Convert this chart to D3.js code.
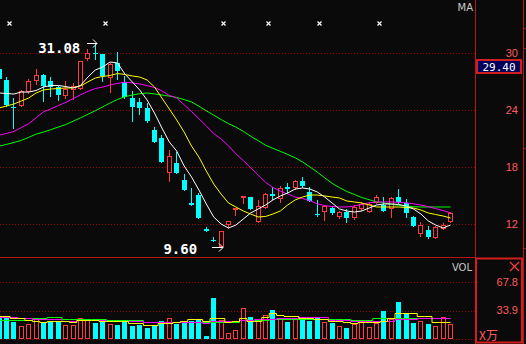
<!DOCTYPE html>
<html>
<head>
<meta charset="utf-8">
<script src="https://cdn.jsdelivr.net/npm/d3@7"></script>
<style>
  html, body { margin: 0; padding: 0; background: #0a0a0a; overflow: hidden; }
  svg { display: block; }
</style>
</head>
<body>
<svg id="chart" width="526" height="344"></svg>
<script>
// daily bars
const open = [28.32,27.16,24.32,24.53,26.00,27.16,27.68,27.05,26.42,25.58,
  26.21,26.32,29.47,30.00,29.89,27.47,28.95,26.95,25.26,24.84,
  24.21,21.89,21.05,17.47,18.42,16.63,14.21,15.05,11.47,10.32,
  9.68,12.00,13.58,14.84,14.84,12.32,13.79,15.16,14.74,15.89,
  15.89,16.53,15.37,13.05,13.37,13.68,12.84,13.26,12.74,13.68,
  13.37,14.32,14.00,13.68,14.84,14.21,12.74,11.05,11.37,10.63,
  11.58,12.32];
const high = [28.53,27.47,25.26,26.11,27.26,28.32,27.79,27.47,26.53,27.05,
  26.84,29.16,30.42,31.08,29.89,28.95,30.11,27.58,26.00,25.26,
  24.74,22.21,21.37,19.79,19.58,17.26,15.79,15.26,11.68,10.63,
  11.26,12.32,13.68,14.95,14.84,14.53,15.26,15.89,16.00,16.32,
  16.63,16.95,15.89,14.53,14.00,13.79,13.37,13.58,14.00,14.32,
  14.21,15.05,14.84,14.84,15.68,14.63,12.84,12.21,11.79,11.79,
  12.11,13.26];
const low = [27.16,24.42,22.11,24.42,25.79,26.74,24.95,25.47,25.05,25.26,
  25.16,26.21,29.26,29.37,27.05,25.89,27.26,25.26,22.84,23.58,
  22.74,20.63,18.53,16.53,17.37,15.58,14.00,12.63,11.26,10.21,
  9.60,11.58,12.95,14.21,13.58,12.21,13.68,14.63,14.32,15.26,
  15.68,15.89,14.42,12.84,12.42,13.05,12.63,12.21,12.53,13.47,
  13.26,14.21,13.37,12.74,14.21,12.74,11.79,10.74,10.53,10.53,
  11.47,12.21];
const close = [27.26,24.53,24.21,26.00,27.05,27.68,26.53,26.42,25.58,26.21,
  26.53,29.16,30.00,29.89,27.58,28.84,28.11,25.37,24.32,24.21,
  22.84,20.63,18.53,19.16,17.37,15.58,14.00,12.63,11.26,10.21,
  11.26,12.32,13.68,14.95,13.58,13.89,15.16,14.95,15.79,15.68,
  16.53,16.00,14.42,12.95,13.89,13.16,13.26,12.63,13.79,14.11,
  14.11,14.84,13.37,14.74,14.32,13.16,11.79,11.89,10.63,11.68,
  11.89,13.16];

// moving averages as drawn
const ma5 = [25.79,25.74,25.68,25.89,25.89,26.05,26.42,26.58,26.58,26.47,
  26.32,26.58,27.47,28.21,28.53,29.05,28.95,27.79,26.95,26.11,
  25.05,23.68,22.11,20.63,19.68,18.11,16.95,15.58,14.11,12.74,
  12.00,11.58,11.89,12.53,13.16,13.58,14.00,14.53,14.95,15.26,
  15.68,15.79,15.68,15.37,14.84,14.21,13.58,13.37,13.26,13.37,
  13.68,14.00,14.11,14.11,14.05,13.89,13.58,13.05,12.32,11.89,
  11.58,11.89];
const ma10 = [24.21,24.42,24.63,24.95,25.26,25.79,26.11,26.21,26.26,26.32,
  26.32,26.53,26.95,27.37,27.53,27.63,27.84,27.74,27.58,27.47,
  27.16,26.42,25.26,24.11,22.95,21.68,20.21,19.05,17.58,16.21,
  15.15,14.21,13.79,13.37,13.05,12.74,12.79,13.05,13.37,14.00,
  14.53,14.84,15.05,15.05,14.95,14.84,14.74,14.42,14.32,14.21,
  14.00,13.79,13.79,13.79,13.79,13.74,13.68,13.47,13.16,13.00,
  12.84,12.63];
const ma20 = [21.35,21.53,21.74,22.15,22.56,23.18,23.81,24.12,24.47,24.79,
  25.19,25.60,25.96,26.26,26.41,26.64,26.80,26.92,26.86,26.74,
  26.57,26.37,26.01,25.54,25.26,24.56,23.83,23.08,22.32,21.51,
  20.95,20.23,19.39,18.68,17.93,17.16,16.39,15.84,15.47,15.16,
  14.84,14.68,14.46,14.12,13.94,13.84,13.79,13.79,13.89,14.07,
  14.23,14.32,14.32,14.32,14.28,14.23,14.13,13.99,13.83,13.62,
  13.41,13.18];
const ma30 = [20.19,20.38,20.58,20.80,21.12,21.46,21.68,21.93,22.21,22.47,
  22.82,23.18,23.55,23.92,24.33,24.74,25.11,25.41,25.57,25.72,
  25.79,25.69,25.58,25.46,25.32,25.09,24.85,24.40,23.92,23.46,
  23.00,22.56,22.21,21.75,21.24,20.78,20.29,19.97,19.65,19.32,
  18.98,18.53,18.01,17.46,16.86,16.28,15.82,15.42,15.11,14.79,
  14.56,14.33,14.20,14.08,13.97,13.87,13.82,13.79,13.79,13.79,
  13.79,13.79];

// volume, x10000
const vol = [25.5,25.5,20.3,15.2,17.9,23.9,19.5,21.2,21.2,16.7,
  16.7,25.1,22.7,19.5,22.7,17.9,16.7,20.0,15.5,16.4,
  13.2,15.5,21.5,25.1,18.3,21.9,21.2,22.7,3.6,49.0,
  22.7,6.8,10.8,37.1,26.3,22.7,28.7,34.7,25.1,20.3,
  23.9,22.7,21.5,25.1,20.3,19.1,15.5,13.2,17.9,21.5,
  14.3,19.1,33.5,23.6,44.2,30.7,19.1,21.5,17.9,15.5,
  26.3,17.9];
const volMa5 = [27.5,27.5,25.1,24.8,22.7,21.5,20.3,21.9,21.9,21.5,
  20.3,23.1,22.7,22.7,21.9,21.9,21.9,21.9,18.8,18.8,
  16.7,16.7,18.8,18.8,20.3,21.9,23.6,23.6,21.5,24.8,
  24.8,20.7,21.9,24.8,21.5,21.5,26.7,30.7,28.7,27.5,
  27.5,25.5,25.5,23.9,23.9,21.5,21.5,20.3,18.8,20.3,
  20.3,20.3,21.5,24.8,30.7,30.7,30.7,27.5,27.5,20.7,
  20.7,20.7];
const volMa10 = [26.7,26.7,26.7,24.8,24.8,23.6,23.6,23.6,23.6,21.5,
  21.5,22.7,22.7,22.7,22.7,21.5,21.5,21.5,21.5,21.5,
  20.3,20.3,20.3,20.3,20.7,20.7,20.7,20.7,19.5,21.9,
  21.9,21.9,21.9,22.7,22.7,23.6,23.6,23.6,25.5,25.5,
  25.5,26.3,26.3,26.3,26.3,22.7,22.7,22.7,21.5,21.5,
  21.5,21.5,21.5,21.5,23.6,23.6,23.6,25.5,25.5,25.5,
  25.5,25.5];
const volMa20 = [22.7,22.7,22.7,22.7,22.7,24.8,24.8,25.9,25.9,23.9,
  23.9,23.9,23.9,23.9,23.9,22.4,22.4,22.4,22.4,22.4,
  20.3,20.3,20.3,20.3,20.3,20.3,20.3,20.3,20.7,20.7,
  20.7,20.7,20.7,22.7,22.7,22.7,22.7,23.9,23.9,23.9,
  23.9,23.9,23.9,23.9,23.9,23.9,23.9,23.9,23.1,23.1,
  23.1,24.8,24.8,24.8,24.8,24.8,24.8,24.8,24.8,24.8,
  24.8,24.8];

const priceTicks = [12, 18, 24, 30];
const volTicks = [33.9, 67.8];
const markerIdx = [1, 14, 30, 36, 43, 51];
const hiIdx = 13, loIdx = 30;
const cursorPrice = "29.40";

const bg = "#0a0a0a",
    gridColor = "#a00000",
    frameColor = "#b41616",
    upColor = "#ff3c3c",
    downColor = "#00ffff",
    labelColor = "#ff5a5a";

const plotRight = 475;

const svg = d3.select("#chart");

svg.append("rect")
    .attr("width", 526).attr("height", 344)
    .attr("fill", bg);

const x = d3.scaleLinear()
    .domain([0, close.length - 1])
    .range([-0.9, 450.5]);

const y = d3.scaleLinear()
    .domain([12, 30])
    .range([224, 53]);

const yv = d3.scaleLinear()
    .domain([0, 67.8])
    .range([339, 282.3]);

const defs = svg.append("defs");
defs.append("clipPath").attr("id", "clipPrice")
  .append("rect").attr("x", 0).attr("y", 0).attr("width", plotRight).attr("height", 257);
defs.append("clipPath").attr("id", "clipVol")
  .append("rect").attr("x", 0).attr("y", 258).attr("width", plotRight).attr("height", 86);

const idx = d3.range(close.length);
function left(i) { return Math.round(x(i) - 2.5); }
function isUp(i) { return close[i] >= open[i]; }

// grid
svg.append("g")
  .selectAll("line")
    .data(priceTicks)
  .enter().append("line")
    .attr("x1", 0).attr("x2", plotRight)
    .attr("y1", function(d) { return Math.round(y(d)) + 0.5; })
    .attr("y2", function(d) { return Math.round(y(d)) + 0.5; })
    .attr("stroke", gridColor)
    .attr("stroke-dasharray", "1,2");

svg.append("g")
  .selectAll("line")
    .data([0].concat(volTicks))
  .enter().append("line")
    .attr("x1", 0).attr("x2", plotRight)
    .attr("y1", function(d) { return Math.round(yv(d)) + 0.5; })
    .attr("y2", function(d) { return Math.round(yv(d)) + 0.5; })
    .attr("stroke", gridColor)
    .attr("stroke-dasharray", "1,2");

// candles
const price = svg.append("g").attr("clip-path", "url(#clipPrice)");

price.selectAll("line.wick")
    .data(idx)
  .enter().append("line")
    .attr("class", "wick")
    .attr("x1", function(i) { return left(i) + 2.5; })
    .attr("x2", function(i) { return left(i) + 2.5; })
    .attr("y1", function(i) { return Math.round(y(high[i])); })
    .attr("y2", function(i) { return Math.round(y(low[i])) + 1; })
    .attr("stroke", function(i) { return isUp(i) ? upColor : downColor; });

price.selectAll("rect.body")
    .data(idx)
  .enter().append("rect")
    .attr("class", "body")
    .each(function(i) {
      const top = Math.round(y(Math.max(open[i], close[i])));
      const bot = Math.round(y(Math.min(open[i], close[i])));
      const r = d3.select(this);
      if (isUp(i)) {
        r.attr("x", left(i) + 0.5).attr("y", top + 0.5)
          .attr("width", 4).attr("height", Math.max(1, bot - top))
          .attr("fill", bg).attr("stroke", upColor);
      } else {
        r.attr("x", left(i)).attr("y", top)
          .attr("width", 5).attr("height", Math.max(1, bot - top))
          .attr("fill", downColor);
      }
    });

const maLine = d3.line()
    .x(function(d, i) { return x(i); })
    .y(function(d) { return y(d); });

[[ma30, "#00ff00"], [ma20, "#ff00ff"], [ma10, "#ffff00"], [ma5, "#ffffff"]].forEach(function(s) {
  price.append("path")
      .attr("d", maLine(s[0]))
      .attr("fill", "none")
      .attr("stroke", s[1])
      .attr("stroke-width", 1);
});

// volume
const volG = svg.append("g").attr("clip-path", "url(#clipVol)");

volG.selectAll("rect.vol")
    .data(idx)
  .enter().append("rect")
    .attr("class", "vol")
    .each(function(i) {
      const top = Math.round(yv(vol[i]));
      const r = d3.select(this);
      if (isUp(i)) {
        r.attr("x", left(i) + 0.5).attr("y", top + 0.5)
          .attr("width", 4).attr("height", 338 - top)
          .attr("fill", bg).attr("stroke", upColor);
      } else {
        r.attr("x", left(i)).attr("y", top)
          .attr("width", 5).attr("height", 339 - top)
          .attr("fill", downColor);
      }
    });

const volLine = d3.line()
    .curve(d3.curveStep)
    .x(function(d, i) { return x(i); })
    .y(function(d) { return Math.round(yv(d)) + 0.5; });

[[volMa20, "#00ff00"], [volMa10, "#ff00ff"], [volMa5, "#ffff00"]].forEach(function(s) {
  volG.append("path")
      .attr("d", volLine(s[0]))
      .attr("fill", "none")
      .attr("stroke", s[1])
      .attr("stroke-width", 1);
});

// event markers along the top
svg.append("g")
  .selectAll("path")
    .data(markerIdx)
  .enter().append("path")
    .attr("transform", function(i) { return "translate(" + (Math.round(x(i)) + 2.5) + ",23.5)"; })
    .attr("d", "M-2,-2L2,2M2,-2L-2,2")
    .attr("stroke", "#ffffff")
    .attr("stroke-width", 1.2);

// high / low labels
function arrow(x0, x1, yy) {
  return "M" + x0 + "," + yy + "H" + x1 + "M" + (x1 - 4) + "," + (yy - 4) + "L" + x1 + "," + yy + "L" + (x1 - 4) + "," + (yy + 4);
}

const hiY = Math.round(y(high[hiIdx])) + 0.5;
svg.append("text")
    .attr("x", x(hiIdx) - 15).attr("y", hiY + 9)
    .attr("text-anchor", "end")
    .attr("fill", "#ffffff")
    .attr("font-family", "DejaVu Sans Mono")
    .attr("font-weight", "bold")
    .attr("font-size", 14)
    .text(high[hiIdx].toFixed(2));
svg.append("path")
    .attr("d", arrow(Math.round(x(hiIdx)) - 8, Math.round(x(hiIdx)) + 2, hiY))
    .attr("fill", "none").attr("stroke", "#ffffff");

const loY = Math.round(y(low[loIdx])) + 0.5;
svg.append("text")
    .attr("x", x(loIdx) - 24).attr("y", loY + 6)
    .attr("text-anchor", "end")
    .attr("fill", "#ffffff")
    .attr("font-family", "DejaVu Sans Mono")
    .attr("font-weight", "bold")
    .attr("font-size", 14)
    .text(low[loIdx].toFixed(2));
svg.append("path")
    .attr("d", arrow(Math.round(x(loIdx)) - 9, Math.round(x(loIdx)) + 2, loY))
    .attr("fill", "none").attr("stroke", "#ffffff");

// frame
svg.append("line")
    .attr("x1", 0).attr("x2", plotRight).attr("y1", 257.5).attr("y2", 257.5)
    .attr("stroke", frameColor);
svg.append("line")
    .attr("x1", plotRight + 0.5).attr("x2", plotRight + 0.5).attr("y1", 0).attr("y2", 344)
    .attr("stroke", frameColor);
svg.append("line")
    .attr("x1", 523.5).attr("x2", 523.5).attr("y1", 0).attr("y2", 344)
    .attr("stroke", frameColor);
svg.append("g")
  .selectAll("line")
    .data([28, 48, 148, 248])
  .enter().append("line")
    .attr("x1", 523).attr("x2", 526)
    .attr("y1", function(d) { return d + 0.5; })
    .attr("y2", function(d) { return d + 0.5; })
    .attr("stroke", frameColor);

svg.append("rect")
    .attr("x", 476).attr("y", 258.5).attr("width", 46).attr("height", 84)
    .attr("fill", "none")
    .attr("stroke", "#d21e1e")
    .attr("stroke-width", 2);

// price axis
svg.append("g")
  .selectAll("text")
    .data(priceTicks)
  .enter().append("text")
    .attr("x", 518)
    .attr("y", function(d) { return y(d) + 4; })
    .attr("text-anchor", "end")
    .attr("fill", labelColor)
    .attr("font-family", "Liberation Sans")
    .attr("font-size", 11)
    .text(function(d) { return d; });

svg.append("rect")
    .attr("x", 477).attr("y", 60).attr("width", 44).attr("height", 13)
    .attr("fill", "#00005a")
    .attr("stroke", "#d21e1e")
    .attr("stroke-width", 2);
svg.append("text")
    .attr("x", 499).attr("y", 71)
    .attr("text-anchor", "middle")
    .attr("fill", "#ffffff")
    .attr("font-family", "DejaVu Sans Mono")
    .attr("font-size", 11)
    .text(cursorPrice);

// volume axis
svg.append("g")
  .selectAll("text")
    .data(volTicks)
  .enter().append("text")
    .attr("x", 518)
    .attr("y", function(d) { return yv(d) + 3.5; })
    .attr("text-anchor", "end")
    .attr("fill", labelColor)
    .attr("font-family", "Liberation Sans")
    .attr("font-size", 11)
    .text(function(d) { return d.toFixed(1); });

svg.append("path")
    .attr("d", "M510,262L519,271M519,262L510,271")
    .attr("stroke", upColor)
    .attr("stroke-width", 1.2);

svg.append("text")
    .attr("x", 479).attr("y", 340)
    .attr("fill", labelColor)
    .attr("font-family", "Noto Sans CJK SC")
    .attr("font-size", 12)
    .text("X万");

// panel titles
svg.append("text")
    .attr("x", 473).attr("y", 11)
    .attr("text-anchor", "end")
    .attr("fill", "#c8c8c8")
    .attr("font-family", "DejaVu Sans")
    .attr("font-size", 10)
    .text("MA");
svg.append("text")
    .attr("x", 472).attr("y", 271)
    .attr("text-anchor", "end")
    .attr("fill", "#c8c8c8")
    .attr("font-family", "DejaVu Sans")
    .attr("font-size", 10)
    .text("VOL");
</script>
</body>
</html>
